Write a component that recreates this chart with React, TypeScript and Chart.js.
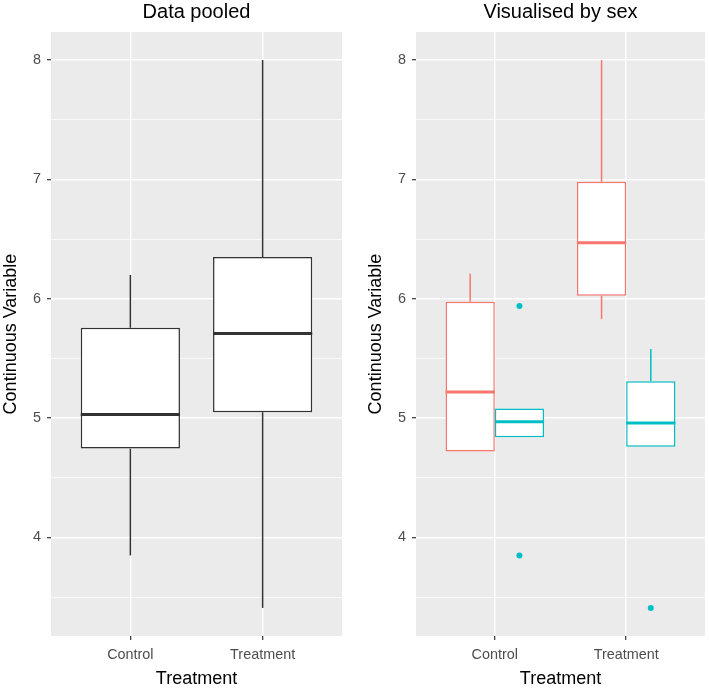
import React, { useEffect, useRef } from "react";
import { Chart, registerables } from "chart.js";

Chart.register(...registerables);

// ---- data ----
const categories = ["Control", "Treatment"];
const yTicks = [3.5, 4, 4.5, 5, 5.5, 6, 6.5, 7, 7.5, 8];
const yMin = 3.175;
const yMax = 8.235;

const pooledMin = [3.85, 3.41];
const pooledQ1 = [4.745, 5.05];
const pooledMedian = [5.03, 5.71];
const pooledQ3 = [5.757, 6.35];
const pooledMax = [6.2, 8.0];

const femaleMin = [4.72, 5.83];
const femaleQ1 = [4.72, 6.025];
const femaleMedian = [5.22, 6.47];
const femaleQ3 = [5.975, 6.98];
const femaleMax = [6.21, 8.0];

const maleMin = [4.84, 4.76];
const maleQ1 = [4.84, 4.76];
const maleMedian = [4.97, 4.96];
const maleQ3 = [5.08, 5.31];
const maleMax = [5.08, 5.58];

const maleOutlierCategory = ["Control", "Control", "Treatment"];
const maleOutlierValues = [5.94, 3.85, 3.41];

// ---- styling ----
const FONT = "'Liberation Sans', Arial, Helvetica, sans-serif";
const BOX_WIDTH = 0.75;
const DODGE = BOX_WIDTH / 4;
const PANEL_BG = "#EBEBEB";
const POOLED_COLOR = "#333333";
const FEMALE_COLOR = "#F8766D";
const MALE_COLOR = "#00BFC4";

type Stat = { lo: number; q1: number; med: number; q3: number; hi: number };

function makeStats(lo: number[], q1: number[], med: number[], q3: number[], hi: number[]): Stat[] {
  return lo.map((_, i) => ({ lo: lo[i], q1: q1[i], med: med[i], q3: q3[i], hi: hi[i] }));
}

const bgPlugin = {
  id: "panelBg",
  beforeDraw(chart: any) {
    const { ctx, chartArea } = chart;
    ctx.save();
    ctx.fillStyle = PANEL_BG;
    ctx.fillRect(chartArea.left, chartArea.top, chartArea.right - chartArea.left, chartArea.bottom - chartArea.top);
    ctx.restore();
  },
  afterDraw(chart: any) {
    const opts = chart.options.plugins.panelTitle;
    if (!opts) return;
    const { ctx, chartArea } = chart;
    ctx.save();
    ctx.fillStyle = "#000000";
    ctx.font = `${opts.size}px ${FONT}`;
    ctx.textAlign = "center";
    ctx.textBaseline = "alphabetic";
    ctx.fillText(opts.text, (chartArea.left + chartArea.right) / 2, opts.baseline);
    ctx.restore();
  },
};

const boxPlugin = {
  id: "boxWhiskers",
  afterDatasetsDraw(chart: any) {
    const ctx = chart.ctx;
    const ys = chart.scales.y;
    chart.data.datasets.forEach((ds: any, di: number) => {
      if (!ds.stats) return;
      const meta = chart.getDatasetMeta(di);
      meta.data.forEach((el: any, i: number) => {
        const s: Stat = ds.stats[i];
        const { x, width } = el.getProps(["x", "width"], true);
        const line = (x1: number, y1: number, x2: number, y2: number) => {
          ctx.beginPath();
          ctx.moveTo(x1, y1);
          ctx.lineTo(x2, y2);
          ctx.stroke();
        };
        ctx.save();
        ctx.strokeStyle = ds.borderColor;
        ctx.lineCap = "butt";
        ctx.lineWidth = 1.5;
        if (s.hi > s.q3) line(x, ys.getPixelForValue(s.q3), x, ys.getPixelForValue(s.hi));
        if (s.lo < s.q1) line(x, ys.getPixelForValue(s.q1), x, ys.getPixelForValue(s.lo));
        ctx.lineWidth = 3;
        const ym = ys.getPixelForValue(s.med);
        line(x - width / 2, ym, x + width / 2, ym);
        ctx.restore();
      });
    });
  },
};

function boxDataset(color: string, stats: Stat[]) {
  return {
    type: "bar" as const,
    data: stats.map((s, i) => ({ x: i + 1, y: [s.q1, s.q3] })),
    backgroundColor: "#FFFFFF",
    borderColor: color,
    borderWidth: 1.5,
    borderSkipped: false,
    stats,
  };
}

function makeOptions(title: string, rightPad: number, grouped: boolean) {
  return {
    responsive: false,
    animation: false,
    events: [],
    layout: { padding: { top: 32, right: rightPad, left: 0, bottom: 0 } },
    datasets: {
      bar: grouped
        ? { categoryPercentage: BOX_WIDTH, barPercentage: 1, grouped: true }
        : { categoryPercentage: 1, barPercentage: BOX_WIDTH },
    },
    plugins: {
      legend: { display: false },
      tooltip: { enabled: false },
      title: { display: false },
      panelTitle: { text: title, size: 20, baseline: 18 },
    },
    scales: {
      x: {
        type: "linear",
        min: 0.4,
        max: 2.6,
        offset: false,
        afterBuildTicks: (scale: any) => {
          scale.ticks = categories.map((_, i) => ({ value: i + 1 }));
        },
        afterFit: (scale: any) => {
          scale.height = 54;
        },
        ticks: {
          autoSkip: false,
          maxRotation: 0,
          padding: 6,
          color: "#4D4D4D",
          font: { family: FONT, size: 14.4 },
          callback: (v: any) => categories[Math.round(Number(v)) - 1] ?? "",
        },
        grid: {
          offset: false,
          color: "#FFFFFF",
          lineWidth: 1.4,
          drawTicks: true,
          tickLength: 4,
          tickColor: "#333333",
          tickWidth: 1.2,
        },
        border: { display: false },
        title: {
          display: true,
          text: "Treatment",
          color: "#000000",
          font: { family: FONT, size: 18 },
          padding: { top: 0, bottom: 0 },
        },
      },
      y: {
        type: "linear",
        min: yMin,
        max: yMax,
        afterBuildTicks: (scale: any) => {
          scale.ticks = yTicks.map((v) => ({ value: v }));
        },
        afterFit: (scale: any) => {
          scale.width = 51;
        },
        ticks: {
          autoSkip: false,
          padding: 6,
          color: "#4D4D4D",
          font: { family: FONT, size: 14.4 },
          callback: (v: any) => (Number.isInteger(Number(v)) ? String(v) : ""),
        },
        grid: {
          color: "#FFFFFF",
          lineWidth: (c: any) => (c.tick && Number.isInteger(c.tick.value) ? 1.4 : 0.7),
          drawTicks: true,
          tickLength: 4,
          tickColor: (c: any) => (c.tick && Number.isInteger(c.tick.value) ? "#333333" : "rgba(0,0,0,0)"),
          tickWidth: 1.2,
        },
        border: { display: false },
        title: {
          display: true,
          text: "Continuous Variable",
          color: "#000000",
          font: { family: FONT, size: 18 },
          padding: { top: 0, bottom: 0 },
        },
      },
    },
  } as any;
}

function PooledChart() {
  const ref = useRef<HTMLCanvasElement | null>(null);
  useEffect(() => {
    if (!ref.current) return;
    const stats = makeStats(pooledMin, pooledQ1, pooledMedian, pooledQ3, pooledMax);
    const chart = new Chart(ref.current, {
      type: "bar",
      data: { datasets: [boxDataset(POOLED_COLOR, stats) as any] },
      options: makeOptions("Data pooled", 12, false),
      plugins: [bgPlugin, boxPlugin],
    });
    return () => chart.destroy();
  }, []);
  return <canvas ref={ref} width={354} height={690} style={{ position: "absolute", left: 0, top: 0 }} />;
}

function SexChart() {
  const ref = useRef<HTMLCanvasElement | null>(null);
  useEffect(() => {
    if (!ref.current) return;
    const fStats = makeStats(femaleMin, femaleQ1, femaleMedian, femaleQ3, femaleMax);
    const mStats = makeStats(maleMin, maleQ1, maleMedian, maleQ3, maleMax);
    const outliers = maleOutlierValues.map((v, i) => ({
      x: categories.indexOf(maleOutlierCategory[i]) + 1 + DODGE,
      y: v,
    }));
    const chart = new Chart(ref.current, {
      type: "bar",
      data: {
        datasets: [
          boxDataset(FEMALE_COLOR, fStats) as any,
          boxDataset(MALE_COLOR, mStats) as any,
          {
            type: "scatter",
            data: outliers,
            backgroundColor: MALE_COLOR,
            borderColor: MALE_COLOR,
            pointRadius: 3,
            borderWidth: 0,
            showLine: false,
          } as any,
        ],
      },
      options: makeOptions("Visualised by sex", 3, true),
      plugins: [bgPlugin, boxPlugin],
    });
    return () => chart.destroy();
  }, []);
  return <canvas ref={ref} width={344} height={690} style={{ position: "absolute", left: 365, top: 0 }} />;
}

export default function App() {
  return (
    <div style={{ position: "fixed", left: 0, top: 0, width: 709, height: 690, background: "#FFFFFF" }}>
      <PooledChart />
      <SexChart />
    </div>
  );
}
